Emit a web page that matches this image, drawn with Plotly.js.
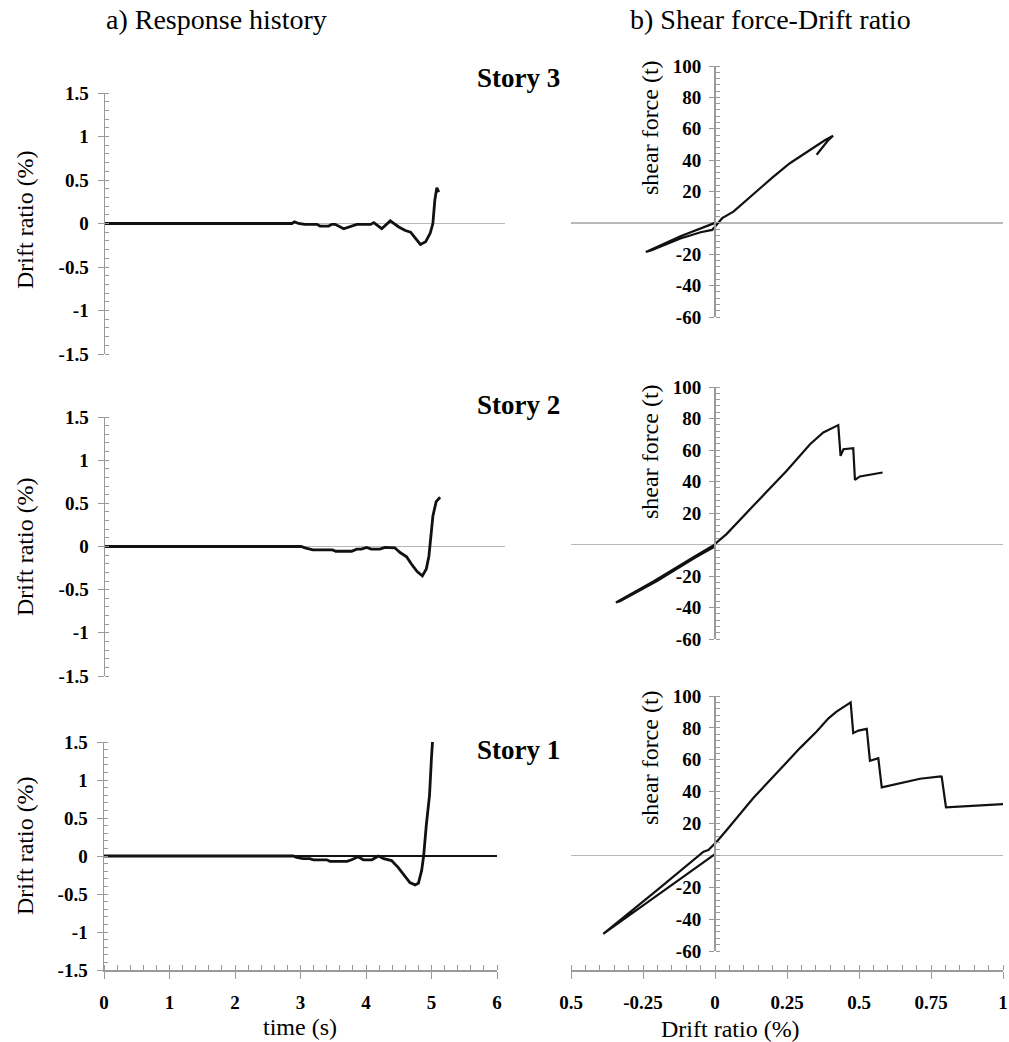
<!DOCTYPE html>
<html>
<head>
<meta charset="utf-8">
<script src="https://cdn.plot.ly/plotly-3.0.1.min.js"></script>
<style>html,body{margin:0;padding:0;background:#fff;}#chart{width:1009px;height:1042px;}</style>
</head>
<body>
<div id="chart"></div>
<script>
// ---- data ----
const story3Time  = [0, 2.85, 2.89, 2.95, 3.05, 3.23, 3.28, 3.41, 3.46, 3.51, 3.64, 3.77, 3.84, 4.05, 4.10, 4.22, 4.35, 4.48, 4.58, 4.66, 4.73, 4.81, 4.89, 4.96, 5.00, 5.03, 5.06, 5.09];
const story3Drift = [0, 0, 0.02, 0, -0.01, -0.01, -0.03, -0.03, -0.01, -0.01, -0.06, -0.03, -0.01, -0.01, 0.01, -0.06, 0.03, -0.04, -0.08, -0.10, -0.17, -0.24, -0.21, -0.11, 0, 0.27, 0.41, 0.36];

const story2Time  = [0, 2.99, 3.05, 3.17, 3.47, 3.52, 3.76, 3.84, 3.91, 3.99, 4.06, 4.19, 4.27, 4.42, 4.50, 4.60, 4.67, 4.76, 4.84, 4.90, 4.94, 4.97, 5.00, 5.05, 5.11];
const story2Drift = [0, 0, -0.015, -0.04, -0.04, -0.055, -0.055, -0.03, -0.03, -0.01, -0.03, -0.03, -0.01, -0.015, -0.07, -0.12, -0.20, -0.29, -0.34, -0.26, -0.11, 0.16, 0.35, 0.52, 0.57];

const story1Time  = [0, 2.89, 2.94, 3.04, 3.14, 3.20, 3.40, 3.45, 3.71, 3.78, 3.88, 3.96, 4.09, 4.19, 4.27, 4.39, 4.49, 4.60, 4.67, 4.75, 4.80, 4.85, 4.88, 4.92, 4.97, 5.00, 5.03];
const story1Drift = [0, 0, -0.02, -0.035, -0.035, -0.05, -0.05, -0.07, -0.07, -0.05, -0.01, -0.05, -0.05, 0, -0.035, -0.06, -0.15, -0.28, -0.35, -0.38, -0.36, -0.19, 0, 0.4, 0.8, 1.3, 1.7];

const story3Ratio = [0, -0.05, -0.12, -0.24, -0.22, -0.12, -0.05, -0.01, 0.015, 0.025, 0.064, 0.10, 0.156, 0.20, 0.26, 0.30, 0.341, 0.38, 0.41, 0.39, 0.353];
const story3Shear = [0, -3.5, -8.5, -18.5, -17.5, -10, -6, -4.5, 1, 3, 7.2, 13, 21.5, 29, 38, 43, 47.7, 52.5, 55.5, 52, 43.4];

const story2Ratio = [0, -0.075, -0.214, -0.344, -0.33, -0.20, -0.07, -0.006, 0.006, 0.04, 0.133, 0.249, 0.33, 0.376, 0.428, 0.436, 0.446, 0.48, 0.486, 0.503, 0.582];
const story2Shear = [0, -8, -23.5, -36.8, -36, -23, -8.5, -1.9, 1.3, 6.6, 24.6, 46.8, 63.7, 71.1, 75.8, 56.3, 60.5, 61.2, 41, 43.2, 45.7];

const story1Ratio = [0, -0.20, -0.388, -0.20, -0.04, -0.023, 0.006, 0.04, 0.11, 0.133, 0.295, 0.353, 0.394, 0.422, 0.471, 0.48, 0.498, 0.527, 0.538, 0.567, 0.579, 0.642, 0.712, 0.784, 0.787, 0.802, 0.885, 1.0];
const story1Shear = [0.8, -25, -49.2, -21.7, 2.3, 3.3, 8.5, 15.8, 30.6, 36, 67.3, 77.7, 86, 90.2, 96, 76.7, 78.3, 79.4, 59.4, 61, 42.7, 45.4, 48.1, 49.6, 49.4, 30.2, 31, 32.2];

const driftTickVals = [-1.5, -1, -0.5, 0, 0.5, 1, 1.5];
const driftTickText = ['-1.5', '-1', '-0.5', '0', '0.5', '1', '1.5'];
const shearTickVals = [-60, -40, -20, 20, 40, 60, 80, 100];
const shearTickText = ['-60', '-40', '-20', '20', '40', '60', '80', '100'];
const timeTickVals  = [0, 1, 2, 3, 4, 5, 6];
const timeTickText  = ['0', '1', '2', '3', '4', '5', '6'];
const ratioTickVals = [-0.5, -0.25, 0, 0.25, 0.5, 0.75, 1];
const ratioTickText = ['0.5', '-0.25', '0', '0.25', '0.5', '0.75', '1'];

const storyLabels = ['Story 3', 'Story 2', 'Story 1'];
const panelTitles = ['a) Response history', 'b) Shear force-Drift ratio'];

// ---- layout helpers ----
const W = 1009, H = 1042;
const fx = v => v / W;
const fy = v => 1 - v / H;
const SERIF = 'Liberation Serif';
const AXC = '#9a9a9a';
const ZC = '#b8b8b8';
const tickFont = {family: SERIF, size: 19, color: '#000', weight: 'bold'};

function leftY(top, bot, zc, zw) {
  return {
    domain: [fy(bot), fy(top)], range: [-1.5, 1.5], fixedrange: true,
    showline: true, linecolor: AXC, linewidth: 1.5, showgrid: false,
    zeroline: true, zerolinecolor: zc, zerolinewidth: zw,
    tickmode: 'array', tickvals: driftTickVals, ticktext: driftTickText,
    ticks: 'outside', ticklen: 6, tickcolor: AXC, tickwidth: 1,
    minor: {dtick: 0.1, tick0: 0, ticks: 'inside', ticklen: 4, tickcolor: AXC, tickwidth: 1, showgrid: false},
    tickfont: tickFont, ticklabelstandoff: 5
  };
}
function rightY(top, bot) {
  return {
    domain: [fy(bot), fy(top)], range: [-60, 100], fixedrange: true,
    anchor: 'free', position: fx(714),
    showline: true, linecolor: AXC, linewidth: 1.5, showgrid: false,
    zeroline: true, zerolinecolor: ZC, zerolinewidth: 1.5,
    tickmode: 'array', tickvals: shearTickVals, ticktext: shearTickText,
    ticks: 'outside', ticklen: 5, tickcolor: AXC, tickwidth: 1,
    minor: {dtick: 4, tick0: 0, ticks: 'inside', ticklen: 4, tickcolor: AXC, tickwidth: 1, showgrid: false},
    tickfont: tickFont, ticklabelstandoff: 4
  };
}
const hiddenX = (l, r, range) => ({
  domain: [fx(l), fx(r)], range: range, fixedrange: true,
  showline: false, showgrid: false, zeroline: false, showticklabels: false, ticks: ''
});

const lineStyle = w => ({color: '#111', width: w, shape: 'linear'});

const traces = [
  {x: story3Time, y: story3Drift, xaxis: 'x', yaxis: 'y', mode: 'lines', line: lineStyle(2.8), name: storyLabels[0]},
  {x: story2Time, y: story2Drift, xaxis: 'x2', yaxis: 'y2', mode: 'lines', line: lineStyle(2.8), name: storyLabels[1]},
  {x: story1Time, y: story1Drift, xaxis: 'x3', yaxis: 'y3', mode: 'lines', line: lineStyle(2.8), name: storyLabels[2]},
  {x: story3Ratio, y: story3Shear, xaxis: 'x4', yaxis: 'y4', mode: 'lines', line: lineStyle(2.2), name: storyLabels[0]},
  {x: story2Ratio, y: story2Shear, xaxis: 'x5', yaxis: 'y5', mode: 'lines', line: lineStyle(2.2), name: storyLabels[1]},
  {x: story1Ratio, y: story1Shear, xaxis: 'x6', yaxis: 'y6', mode: 'lines', line: lineStyle(2.2), name: storyLabels[2]}
];

const ann = (text, x, y, opts) => Object.assign({
  text: text, x: fx(x), y: fy(y), xref: 'paper', yref: 'paper',
  showarrow: false, xanchor: 'center', yanchor: 'middle',
  font: {family: SERIF, size: 24, color: '#000'}
}, opts || {});

const annotations = [
  ann(panelTitles[0], 216, 20, {font: {family: SERIF, size: 28, color: '#000'}}),
  ann(panelTitles[1], 770, 20, {font: {family: SERIF, size: 28, color: '#000'}}),
  ann(storyLabels[0], 518, 78, {font: {family: SERIF, size: 27, color: '#000', weight: 'bold'}}),
  ann(storyLabels[1], 518, 405, {font: {family: SERIF, size: 27, color: '#000', weight: 'bold'}}),
  ann(storyLabels[2], 518, 750, {font: {family: SERIF, size: 27, color: '#000', weight: 'bold'}}),
  ann('Drift ratio (%)', 25, 220, {textangle: -90}),
  ann('Drift ratio (%)', 25, 547, {textangle: -90}),
  ann('Drift ratio (%)', 25, 846, {textangle: -90}),
  ann('shear force (t)', 650, 128, {textangle: -90}),
  ann('shear force (t)', 650, 452, {textangle: -90}),
  ann('shear force (t)', 650, 758, {textangle: -90}),
  ann('time (s)', 300, 1027),
  ann('Drift ratio (%)', 730, 1029)
];

const layout = {
  width: W, height: H,
  margin: {l: 0, r: 0, t: 0, b: 0, pad: 0},
  paper_bgcolor: '#fff', plot_bgcolor: 'rgba(0,0,0,0)',
  showlegend: false,
  xaxis: hiddenX(105, 505, [0, 6.1]),
  xaxis2: hiddenX(105, 505, [0, 6.1]),
  xaxis3: {
    domain: [fx(104), fx(497)], range: [0, 6], fixedrange: true, anchor: 'y3',
    showline: true, linecolor: AXC, linewidth: 1.5, showgrid: false, zeroline: false,
    tickmode: 'array', tickvals: timeTickVals, ticktext: timeTickText,
    ticks: 'outside', ticklen: 7, tickcolor: AXC, tickwidth: 1,
    minor: {dtick: 0.2, tick0: 0, ticks: 'inside', ticklen: 5, tickcolor: AXC, tickwidth: 1, showgrid: false},
    tickfont: tickFont, ticklabelstandoff: 8
  },
  xaxis4: Object.assign(hiddenX(571, 1003, [-0.5, 1]), {anchor: 'y4'}),
  xaxis5: Object.assign(hiddenX(571, 1003, [-0.5, 1]), {anchor: 'y5'}),
  xaxis6: {
    domain: [fx(571), fx(1003)], range: [-0.5, 1], fixedrange: true,
    anchor: 'free', position: fy(970),
    showline: true, linecolor: AXC, linewidth: 1.5, showgrid: false, zeroline: false,
    tickmode: 'array', tickvals: ratioTickVals, ticktext: ratioTickText,
    ticks: 'outside', ticklen: 7, tickcolor: AXC, tickwidth: 1,
    minor: {dtick: 0.05, tick0: 0, ticks: 'inside', ticklen: 5, tickcolor: AXC, tickwidth: 1, showgrid: false},
    tickfont: tickFont, ticklabelstandoff: 8
  },
  yaxis: Object.assign(leftY(93, 354, ZC, 1.5), {anchor: 'x'}),
  yaxis2: Object.assign(leftY(417, 676, ZC, 1.5), {anchor: 'x2'}),
  yaxis3: Object.assign(leftY(742, 970, '#111', 2), {anchor: 'x3'}),
  yaxis4: rightY(66, 317),
  yaxis5: rightY(387, 639),
  yaxis6: rightY(696, 951),
  annotations: annotations
};

Plotly.newPlot('chart', traces, layout, {displayModeBar: false, staticPlot: true});
</script>
</body>
</html>
